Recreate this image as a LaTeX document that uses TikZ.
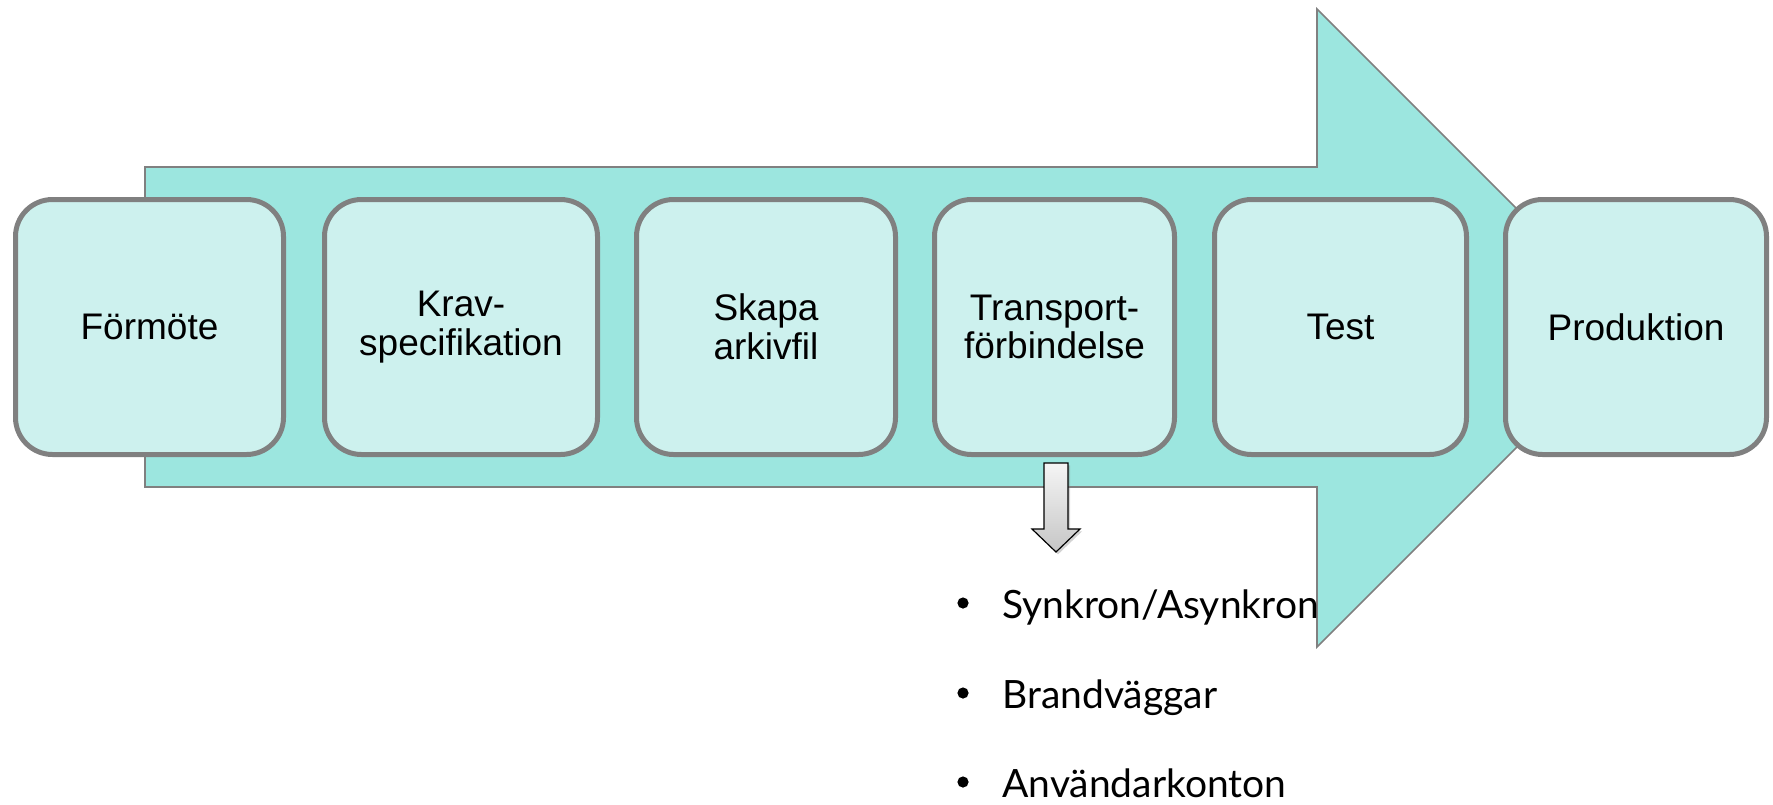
\documentclass[tikz,border=0pt]{standalone}
\usepackage{fontspec}
\setmainfont{Liberation Sans}
\newfontfamily\listfont{Lato}
\usepackage{xcolor}
\usepackage{tikz}
\usetikzlibrary{shapes}
\usetikzlibrary{shadows}
\usetikzlibrary{positioning}

\definecolor{flowfill}{HTML}{9CE6DF}
\definecolor{stagefill}{HTML}{CDF1EE}
\definecolor{stageline}{HTML}{808080}

\begin{document}
\begin{tikzpicture}[
    x=0.5pt, y=-0.5pt,
    font=\fontsize{18.5}{19.4}\selectfont,
    flow/.style={draw=stageline, line width=0.8pt, fill=flowfill},
    stage/.style={rectangle, rounded corners=18.5pt, draw=stageline, line width=2.5pt,
        fill=stagefill, align=center, inner sep=+0pt, minimum height=127.5pt},
    item/.style={inner sep=+0pt, anchor=base west, font=\listfont\fontsize{19.5}{23}\selectfont},
    dot/.style={circle, fill=black, inner sep=+0pt, minimum size=5.6pt}
    ]
\useasboundingbox (0,0) rectangle (1773,804);

% big arrow in the background
\draw[flow] (145,167) -- (1317,167) -- (1317,9) -- (1636,328) -- (1317,647) -- (1317,487) -- (145,487) -- cycle;

% stages
\node[stage, minimum width=134pt]   (form)  at (149.5,327) {Förmöte};
\node[stage, minimum width=136.5pt] (krav)  at (461,327)   {Krav-\\specifikation};
\node[stage, minimum width=129.5pt] (skapa) at (766,327)   {Skapa\\arkivfil};
\node[stage, minimum width=120pt]   (trans) at (1054.5,327) {Transport-\\förbindelse};
\node[stage, minimum width=126pt]   (test)  at (1340.5,327) {Test};
\node[stage, minimum width=130.5pt] (prod)  at (1636,327)  {Produktion};

% small down arrow
\path[draw=black, line width=0.6pt, top color=gray!8, bottom color=gray!45,
      drop shadow={opacity=0.35, shadow xshift=1pt, shadow yshift=-1.2pt}]
    (1044,463) -- (1068,463) -- (1068,529) -- (1080,529) -- (1056,552)
    -- (1032,529) -- (1044,529) -- cycle;

% list
\node[dot]  (d1) at (963,603) {};
\node[item] (t1) at (1002,618) {Synkron/Asynkron};
\node[dot]  (d2) at (963,693) {};
\node[item] (t2) at (1002,708) {Brandväggar};
\node[dot]  (d3) at (963,782) {};
\node[item] (t3) at (1002,797) {Användarkonton};

\end{tikzpicture}
\end{document}
